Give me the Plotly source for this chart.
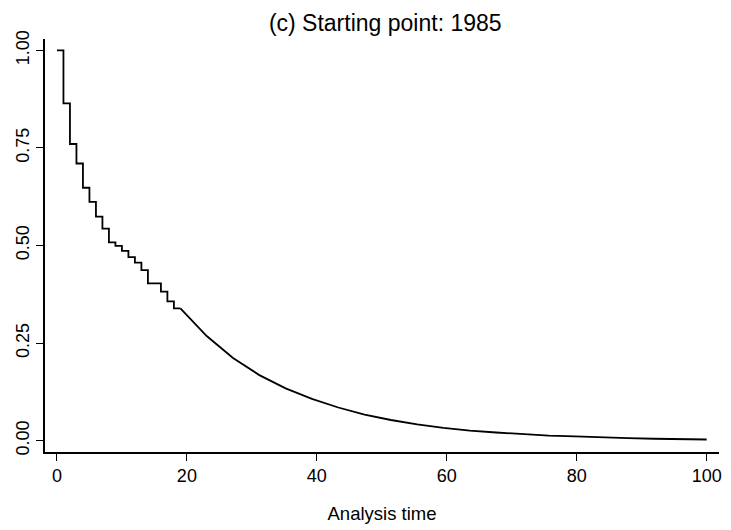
import plotly.graph_objects as go

# Kaplan-Meier step part (time, survival)
step_time = [0, 1, 2, 3, 4, 5, 6, 7, 8, 9, 10, 11, 12, 13, 14, 16, 17, 18, 19]
step_surv = [1.000, 0.864, 0.760, 0.710, 0.648, 0.612, 0.574, 0.543, 0.508,
             0.499, 0.486, 0.470, 0.456, 0.437, 0.403, 0.382, 0.357, 0.339, 0.339]

# Smooth (extrapolated) part
curve_time = [19.0, 23.05, 27.1, 31.15, 35.2, 39.25, 43.3, 47.35, 51.4, 55.45,
              59.5, 63.55, 67.6, 71.65, 75.7, 79.75, 83.8, 87.85, 91.9, 95.95, 100.0]
curve_surv = [0.339, 0.268, 0.212, 0.168, 0.134, 0.107, 0.085, 0.067, 0.053, 0.042,
              0.033, 0.026, 0.021, 0.017, 0.013, 0.011, 0.008, 0.0065, 0.005, 0.004, 0.003]

x_ticks = [0, 20, 40, 60, 80, 100]
y_ticks = [0, 0.25, 0.5, 0.75, 1.0]
y_tick_labels = ["0.00", "0.25", "0.50", "0.75", "1.00"]

title_text = "(c) Starting point: 1985"
x_title = "Analysis time"

FONT = "Liberation Sans, Arial, sans-serif"

fig = go.Figure()
fig.add_trace(go.Scatter(x=step_time, y=step_surv, mode="lines",
                         line=dict(color="black", width=1.8, shape="hv"),
                         showlegend=False, hoverinfo="skip"))
fig.add_trace(go.Scatter(x=curve_time, y=curve_surv, mode="lines",
                         line=dict(color="black", width=1.8),
                         showlegend=False, hoverinfo="skip"))

fig.update_layout(
    width=731, height=530,
    paper_bgcolor="white", plot_bgcolor="white",
    margin=dict(l=45, r=9, t=39, b=66),
    font=dict(family=FONT, size=18, color="black"),
    title=dict(text=title_text, x=0.527, xref="container", xanchor="center",
               y=0.957, yref="container", yanchor="middle",
               font=dict(family=FONT, size=23, color="black")),
    showlegend=False,
)
fig.update_xaxes(
    range=[-1.84, 101.9], tickmode="array", tickvals=x_ticks,
    ticks="outside", ticklen=7, tickwidth=1, tickcolor="black",
    showline=True, linecolor="black", linewidth=1.5, mirror=False,
    showgrid=False, zeroline=False,
    tickfont=dict(family=FONT, size=18),
    title=dict(text=x_title, font=dict(family=FONT, size=18.5), standoff=22),
)
fig.update_yaxes(
    range=[-0.029, 1.029], tickmode="array", tickvals=y_ticks, ticktext=y_tick_labels,
    ticks="outside", ticklen=7, tickwidth=1, tickcolor="black", tickangle=-90,
    showline=True, linecolor="black", linewidth=1.5, mirror=False,
    showgrid=False, zeroline=False,
    tickfont=dict(family=FONT, size=18),
)

fig.write_html("out.html", config={"displayModeBar": False},
               post_script="document.body.style.margin='0';document.body.style.padding='0';")
